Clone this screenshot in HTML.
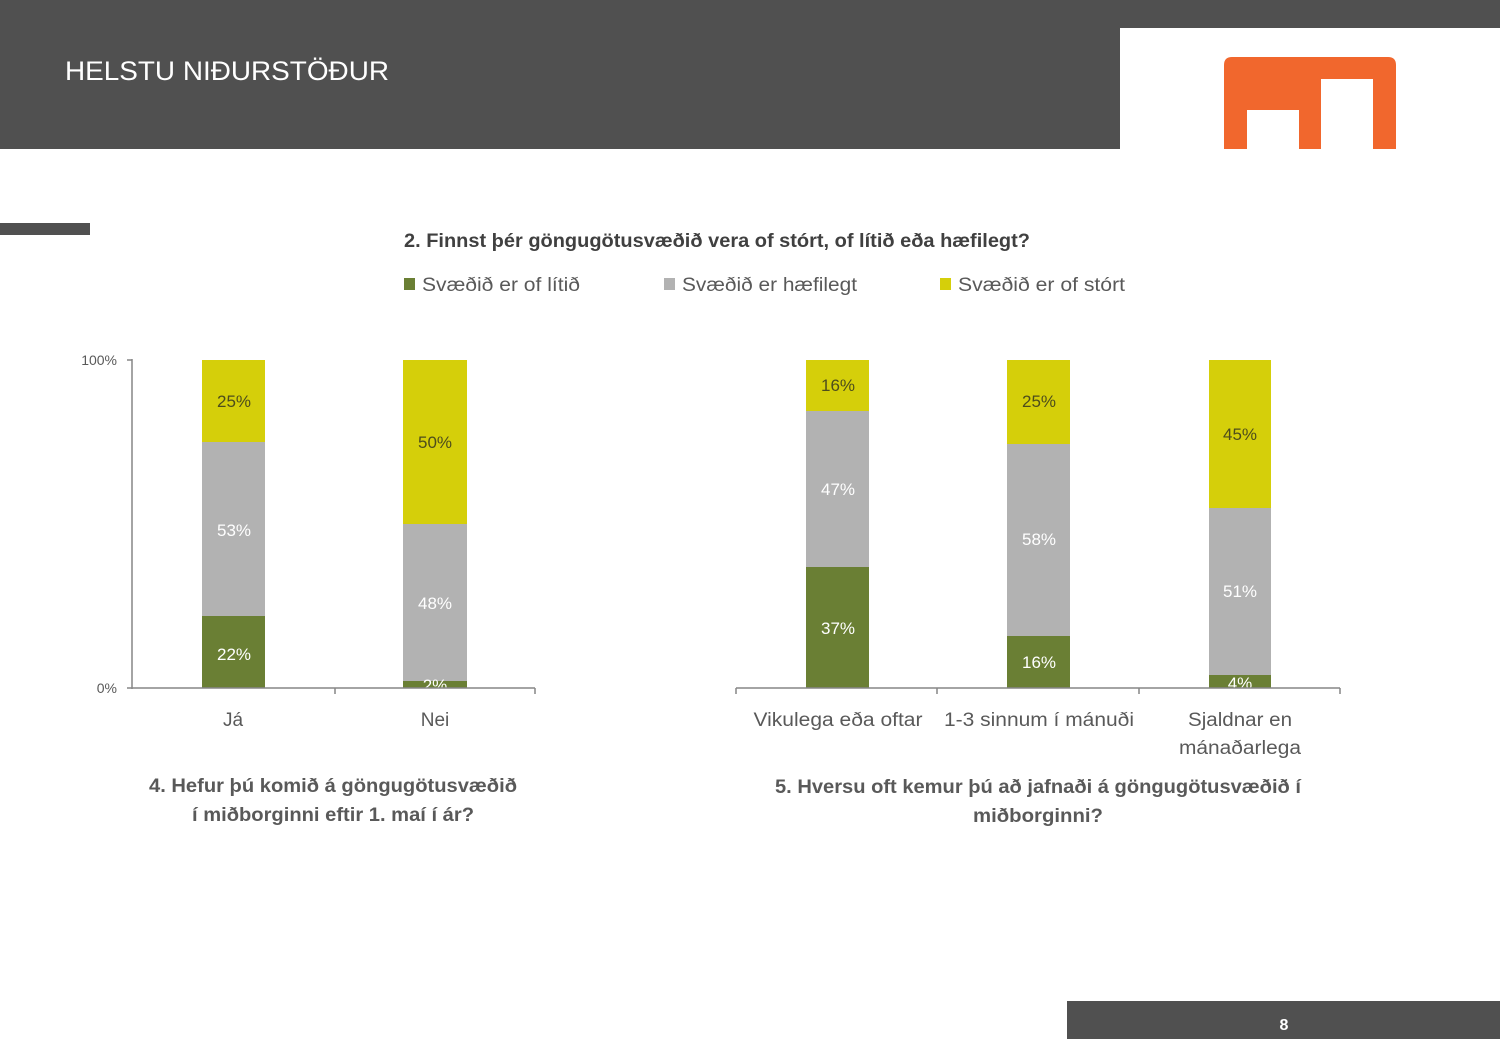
<!DOCTYPE html>
<html>
<head>
<meta charset="utf-8">
<style>
html,body{margin:0;padding:0;background:#fff;}
body{width:1500px;height:1039px;overflow:hidden;position:relative;font-family:"Liberation Sans",sans-serif;}
svg{position:absolute;left:0;top:0;}
</style>
</head>
<body>
<svg width="1500" height="1039" viewBox="0 0 1500 1039" xmlns="http://www.w3.org/2000/svg" font-family="Liberation Sans, sans-serif">
  <!-- header -->
  <rect x="0" y="0" width="1500" height="28" fill="#505050"/>
  <rect x="0" y="0" width="1120" height="149" fill="#505050"/>
  <text x="65" y="80" font-size="27" fill="#ffffff" textLength="324" lengthAdjust="spacingAndGlyphs">HELSTU NIÐURSTÖÐUR</text>
  <!-- logo -->
  <path d="M1224,149 L1224,65 Q1224,57 1232,57 L1388,57 Q1396,57 1396,65 L1396,149 L1373,149 L1373,79 L1321,79 L1321,149 L1299,149 L1299,110 L1247,110 L1247,149 Z" fill="#f1672d"/>
  <!-- left accent bar -->
  <rect x="0" y="223" width="90" height="12" fill="#505050"/>

  <!-- chart title -->
  <text x="404" y="247" font-size="19" font-weight="bold" fill="#404040" textLength="626" lengthAdjust="spacingAndGlyphs">2. Finnst þér göngugötusvæðið vera of stórt, of lítið eða hæfilegt?</text>
  <!-- legend -->
  <rect x="404" y="278" width="11" height="12" fill="#6a7f34"/>
  <text x="422" y="291" font-size="19" fill="#595959" textLength="158" lengthAdjust="spacingAndGlyphs">Svæðið er of lítið</text>
  <rect x="664" y="278" width="11" height="12" fill="#b2b2b2"/>
  <text x="682" y="291" font-size="19" fill="#595959" textLength="175" lengthAdjust="spacingAndGlyphs">Svæðið er hæfilegt</text>
  <rect x="940" y="278" width="11" height="12" fill="#d5cf0a"/>
  <text x="958" y="291" font-size="19" fill="#595959" textLength="167" lengthAdjust="spacingAndGlyphs">Svæðið er of stórt</text>

  <!-- LEFT CHART -->
  <text x="117" y="365" font-size="14" fill="#595959" text-anchor="end">100%</text>
  <text x="117" y="693" font-size="14" fill="#595959" text-anchor="end">0%</text>
  <!-- Já -->
  <rect x="202" y="360" width="63" height="82" fill="#d5cf0a"/>
  <rect x="202" y="442" width="63" height="174" fill="#b2b2b2"/>
  <rect x="202" y="616" width="63" height="72" fill="#6a7f34"/>
  <!-- Nei -->
  <rect x="403" y="360" width="64" height="164" fill="#d5cf0a"/>
  <rect x="403" y="524" width="64" height="157" fill="#b2b2b2"/>
  <rect x="403" y="681" width="64" height="7" fill="#6a7f34"/>
  <g font-size="17" text-anchor="middle">
    <text x="234" y="407" fill="#4d4d1c">25%</text>
    <text x="234" y="536" fill="#ffffff">53%</text>
    <text x="234" y="660" fill="#ffffff">22%</text>
    <text x="435" y="448" fill="#4d4d1c">50%</text>
    <text x="435" y="609" fill="#ffffff">48%</text>
    <text x="435" y="691" fill="#ffffff">2%</text>
  </g>
  <rect x="130" y="689" width="410" height="10" fill="#ffffff"/>
  <g stroke="#868686" stroke-width="1.5" fill="none">
    <line x1="132" y1="359" x2="132" y2="689"/>
    <line x1="127" y1="360" x2="132" y2="360"/>
    <line x1="127" y1="688" x2="535" y2="688"/>
    <line x1="335" y1="688" x2="335" y2="694"/>
    <line x1="535" y1="688" x2="535" y2="694"/>
  </g>
  <g font-size="19" fill="#595959" text-anchor="middle">
    <text x="233" y="726">Já</text>
    <text x="435" y="726">Nei</text>
  </g>
  <g font-size="19" font-weight="bold" fill="#595959" text-anchor="middle">
    <text x="333" y="792" textLength="368" lengthAdjust="spacingAndGlyphs">4. Hefur þú komið á göngugötusvæðið</text>
    <text x="333" y="821" textLength="282" lengthAdjust="spacingAndGlyphs">í miðborginni eftir 1. maí í ár?</text>
  </g>

  <!-- RIGHT CHART -->
  <!-- Vikulega -->
  <rect x="806" y="360" width="63" height="51" fill="#d5cf0a"/>
  <rect x="806" y="411" width="63" height="156" fill="#b2b2b2"/>
  <rect x="806" y="567" width="63" height="121" fill="#6a7f34"/>
  <!-- 1-3 -->
  <rect x="1007" y="360" width="63" height="84" fill="#d5cf0a"/>
  <rect x="1007" y="444" width="63" height="192" fill="#b2b2b2"/>
  <rect x="1007" y="636" width="63" height="52" fill="#6a7f34"/>
  <!-- Sjaldnar -->
  <rect x="1209" y="360" width="62" height="148" fill="#d5cf0a"/>
  <rect x="1209" y="508" width="62" height="167" fill="#b2b2b2"/>
  <rect x="1209" y="675" width="62" height="13" fill="#6a7f34"/>
  <g font-size="17" text-anchor="middle">
    <text x="838" y="391" fill="#4d4d1c">16%</text>
    <text x="838" y="495" fill="#ffffff">47%</text>
    <text x="838" y="634" fill="#ffffff">37%</text>
    <text x="1039" y="407" fill="#4d4d1c">25%</text>
    <text x="1039" y="545" fill="#ffffff">58%</text>
    <text x="1039" y="668" fill="#ffffff">16%</text>
    <text x="1240" y="440" fill="#4d4d1c">45%</text>
    <text x="1240" y="597" fill="#ffffff">51%</text>
    <text x="1240" y="689" fill="#ffffff">4%</text>
  </g>
  <rect x="730" y="689" width="620" height="10" fill="#ffffff"/>
  <g stroke="#868686" stroke-width="1.5" fill="none">
    <line x1="736" y1="688" x2="1340" y2="688"/>
    <line x1="736" y1="688" x2="736" y2="694"/>
    <line x1="937" y1="688" x2="937" y2="694"/>
    <line x1="1139" y1="688" x2="1139" y2="694"/>
    <line x1="1340" y1="688" x2="1340" y2="694"/>
  </g>
  <g font-size="19" fill="#595959" text-anchor="middle">
    <text x="838" y="726" textLength="169" lengthAdjust="spacingAndGlyphs">Vikulega eða oftar</text>
    <text x="1039" y="726" textLength="190" lengthAdjust="spacingAndGlyphs">1-3 sinnum í mánuði</text>
    <text x="1240" y="726" textLength="104" lengthAdjust="spacingAndGlyphs">Sjaldnar en</text>
    <text x="1240" y="754" textLength="122" lengthAdjust="spacingAndGlyphs">mánaðarlega</text>
  </g>
  <g font-size="19" font-weight="bold" fill="#595959" text-anchor="middle">
    <text x="1038" y="793" textLength="526" lengthAdjust="spacingAndGlyphs">5. Hversu oft kemur þú að jafnaði á göngugötusvæðið í</text>
    <text x="1038" y="822" textLength="130" lengthAdjust="spacingAndGlyphs">miðborginni?</text>
  </g>

  <!-- footer -->
  <rect x="1067" y="1001" width="433" height="38" fill="#505050"/>
  <text x="1284" y="1030" font-size="16" font-weight="bold" fill="#ffffff" text-anchor="middle">8</text>
</svg>
</body>
</html>
